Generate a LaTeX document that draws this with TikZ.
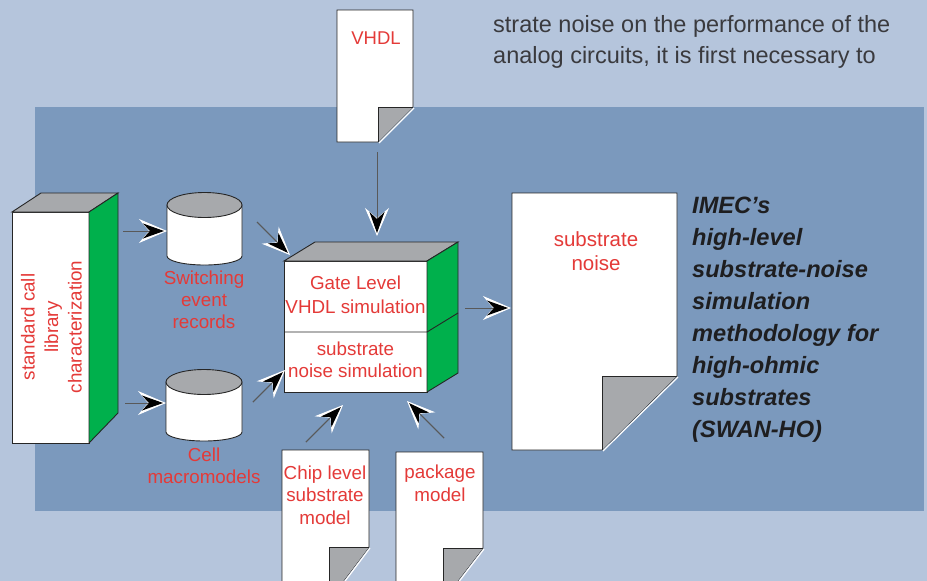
\documentclass[tikz,border=0pt]{standalone}
\usepackage{fontspec}
\setmainfont{Liberation Sans}
\usetikzlibrary{arrows.meta}
\definecolor{bgl}{RGB}{181,197,220}
\definecolor{panel}{RGB}{123,153,189}
\definecolor{lab}{RGB}{228,58,56}
\definecolor{grayf}{RGB}{167,169,172}
\definecolor{greenf}{RGB}{0,176,76}
\definecolor{bodyt}{RGB}{58,58,62}
\definecolor{titlet}{RGB}{30,30,32}
\newcommand{\mydocshape}[6]{%
  \filldraw[fill=white, edge] (#1,#2) -- (#3,#2) -- (#3,#5) -- (#6,#4) -- (#1,#4) -- cycle;
  \fill[grayf] (#6,#5) -- (#3,#5) -- (#6,#4) -- cycle;
  \draw[edge] (#3,#5) -- (#6,#5) -- (#6,#4);
  \draw[white, line width=1.2pt] (#3+1,#5+1) -- (#6+1,#4+1);
}
\begin{document}
\begin{tikzpicture}[x=1pt,y=-1pt,
  edge/.style={draw=black!85, line width=0.9pt},
  lbl/.style={text=lab, font=\fontsize{18.5}{22.5}\selectfont, align=center, inner sep=0pt},
  arrhalo/.style={draw=black!65, line width=1pt, -{Stealth[length=28pt,width=24pt,inset=10pt,white]}},
  arrcore/.style={draw=black!65, line width=1pt, shorten >=3pt, -{Stealth[length=21pt,width=15pt,inset=7pt,black]}},
  bodytext/.style={text=bodyt, font=\fontsize{23.5}{31}\selectfont, anchor=base west, inner sep=0pt},
  titletext/.style={text=titlet, font=\fontsize{23.6}{32}\selectfont\bfseries\itshape, anchor=base west, inner sep=0pt}]
\useasboundingbox (0,0) rectangle (927,581);
\clip (0,0) rectangle (927,581);
% backgrounds
\fill[bgl] (0,0) rectangle (927,581);
\fill[panel] (35,107) rectangle (924,511);
% body text
\node[bodytext] (body1) at (493,32) {strate noise on the performance of the};
\node[bodytext] (body2) at (493,63) {analog circuits, it is first necessary to};
% left 3D box
\filldraw[fill=white, edge] (12,212) rectangle (89,443);
\filldraw[fill=grayf, edge] (12,212) -- (41,193) -- (118,193) -- (89,212) -- cycle;
\filldraw[fill=greenf, edge] (89,212) -- (118,193) -- (118,413) -- (89,443) -- cycle;
\node[lbl, rotate=90, font=\fontsize{18.8}{23.5}\selectfont] (lib) at (51.5,327) {standard call\\library\\characterization};
% cylinder 1
\filldraw[fill=white, edge] (167,205) -- (167,256) arc[start angle=180, end angle=0, x radius=37.5, y radius=9] -- (242,205) -- cycle;
\filldraw[fill=grayf, edge] (204.5,205) ellipse[x radius=37.5, y radius=12.5];
\node[lbl, font=\fontsize{18.8}{22}\selectfont] (swr) at (204,300) {Switching\\event\\records};
% cylinder 2
\filldraw[fill=white, edge] (166,382) -- (166,432) arc[start angle=180, end angle=0, x radius=38, y radius=9] -- (242,382) -- cycle;
\filldraw[fill=grayf, edge] (204,382) ellipse[x radius=38, y radius=12.5];
\node[lbl, font=\fontsize{18.8}{22}\selectfont] (cellm) at (204,466) {Cell\\macromodels};
% centre 3D box
\filldraw[fill=white, edge] (284,261) rectangle (427,392);
\filldraw[fill=grayf, edge] (284,261) -- (315,242) -- (458,242) -- (427,261) -- cycle;
\filldraw[fill=greenf, edge] (427,261) -- (458,242) -- (458,373) -- (427,392) -- cycle;
\draw[edge] (284,332) -- (427,332) -- (458,313);
\node[lbl, font=\fontsize{18.8}{24}\selectfont] (gate) at (355.5,295) {Gate Level\\VHDL simulation};
\node[lbl, font=\fontsize{18.8}{22}\selectfont] (subsim) at (355.5,360) {substrate\\noise simulation};
% documents
\mydocshape{337}{10}{413}{142}{107}{378}
\node[lbl] (vhdl) at (376,38) {VHDL};
\mydocshape{512}{193}{677}{450}{376}{602}
\node[lbl, font=\fontsize{20.5}{24}\selectfont] (noise) at (596,251) {substrate\\noise};
\mydocshape{282}{450}{369}{600}{547}{329}
\node[lbl, font=\fontsize{18.8}{22.5}\selectfont] (chip) at (325,495) {Chip level\\substrate\\model};
\mydocshape{396}{452}{483}{600}{548}{443}
\node[lbl, font=\fontsize{18.8}{22.5}\selectfont] (pkg) at (440,483.5) {package\\model};
% title
\foreach \t [count=\i from 0] in {IMEC’s,high-level,substrate-noise,simulation,methodology for,high-ohmic,substrates,(SWAN-HO)}
  \node[titletext] (title\i) at (692,213+32*\i) {\t};
% connector end points
\coordinate (a1s) at (123,231); \coordinate (a1e) at (167,231);
\coordinate (a2s) at (125,403); \coordinate (a2e) at (166,403);
\coordinate (a3s) at (257,222); \coordinate (a3e) at (290,255);
\coordinate (a4s) at (253,402); \coordinate (a4e) at (285,370);
\coordinate (a5s) at (377,152); \coordinate (a5e) at (377,236);
\coordinate (a6s) at (465,308); \coordinate (a6e) at (511,308);
\coordinate (a7s) at (306,442); \coordinate (a7e) at (343,405);
\coordinate (a8s) at (444,438); \coordinate (a8e) at (407,401);
\foreach \k in {1,...,8} {
  \draw[arrhalo] (a\k s) -- (a\k e);
  \draw[arrcore] (a\k s) -- (a\k e);
}
\end{tikzpicture}
\end{document}
